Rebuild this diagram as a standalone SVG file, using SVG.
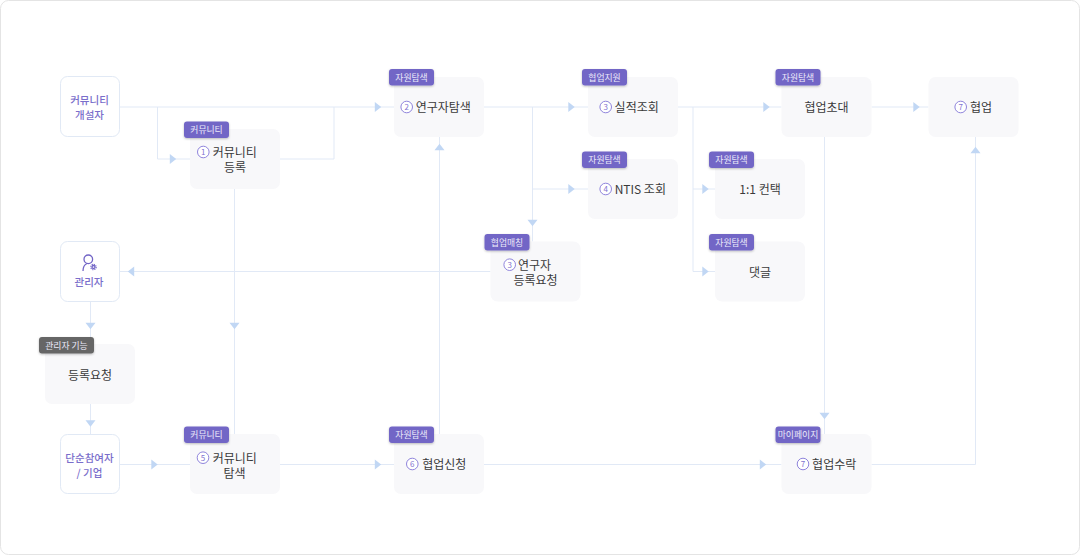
<svg xmlns="http://www.w3.org/2000/svg" width="1080" height="555" viewBox="0 0 1080 555">
<style>
text{font-family:"Noto Sans CJK KR","Noto Sans",sans-serif;text-anchor:middle}
.n{fill:#f8f8fa}
.u{fill:#fff;stroke:#e1e9f5;stroke-width:1}
.t{font-size:12px;fill:#3a3a3a}
.p{font-size:10.500px;fill:#7a6ecb;font-weight:500}
.b{fill:#7266c6;filter:url(#s)}
.g{fill:#666;filter:url(#s)}
.bt{font-size:8.800px;fill:#eceafa}
.c{fill:#fff;stroke:#8f84dc;stroke-width:1}
.d{font-size:8px;fill:#7f73cf}
.l{fill:none;stroke:#e1e9f6;stroke-width:1}
.a{fill:#c1d7f4}
</style>
<defs>
<filter id="s" x="-20%" y="-30%" width="140%" height="170%"><feDropShadow dx="0" dy="1" stdDeviation="1" flood-color="#000" flood-opacity=".25"/></filter>
<polygon id="ar" points="-3.200,-5 3.200,0 -3.200,5"/>
</defs>
<rect x="0.500" y="0.500" width="1079" height="554" rx="8" fill="#fff" stroke="#e4e4e4"/>
<g id="connectors">
<path class="l" d="M120 107H394M157.500 107V159H190M280 159H334V107M234.500 189V434M484 107H588M532.500 107V241.500M532.500 189H588M678 107H781.500M693 107V271.500H715M693 189H715M871.500 107H928.500M490.500 271.500H120M90.500 301.500V344M90.500 404V434M120 464.500H190M280 464.500H394M484 464.500H781.500M871.500 464.500H975.500V137M439.500 434V137M824.500 137V434"/>
<g class="a">
<use href="#ar" transform="translate(173,159)"/>
<use href="#ar" transform="translate(378,107)"/>
<use href="#ar" transform="translate(571.500,107)"/>
<use href="#ar" transform="translate(571.500,189)"/>
<use href="#ar" transform="translate(766.500,107)"/>
<use href="#ar" transform="translate(916.500,107)"/>
<use href="#ar" transform="translate(705.500,189)"/>
<use href="#ar" transform="translate(705.500,271.500)"/>
<use href="#ar" transform="translate(154.500,464.500)"/>
<use href="#ar" transform="translate(378,464.500)"/>
<use href="#ar" transform="translate(763,464.500)"/>
<use href="#ar" transform="translate(131,271.500) rotate(180)"/>
<use href="#ar" transform="translate(532.500,223) rotate(90)"/>
<use href="#ar" transform="translate(90.500,326) rotate(90)"/>
<use href="#ar" transform="translate(234.500,326) rotate(90)"/>
<use href="#ar" transform="translate(90.500,423.500) rotate(90)"/>
<use href="#ar" transform="translate(824.500,416) rotate(90)"/>
<use href="#ar" transform="translate(439.500,147) rotate(-90)"/>
<use href="#ar" transform="translate(975.500,150) rotate(-90)"/>
</g>
</g>
<g id="node-creator"><rect class="u" x="60.500" y="76.500" width="59" height="60" rx="7"/><text class="p" x="89.500" y="103.500">커뮤니티</text><text class="p" x="89.500" y="118.500">개설자</text></g>
<g id="node-register"><rect class="n" x="190" y="129" width="90" height="60" rx="7"/><rect class="b" x="184" y="121.500" width="45" height="16.500" rx="3"/><text class="bt" x="206.500" y="133">커뮤니티</text><circle class="c" cx="203.300" cy="152" r="5.800"/><text class="d" x="203.300" y="155">1</text><text class="t" x="234.800" y="157">커뮤니티</text><text class="t" x="235" y="172">등록</text></g>
<g id="node-search"><rect class="n" x="394" y="77" width="90" height="60" rx="7"/><rect class="b" x="389" y="69" width="45" height="16.500" rx="3"/><text class="bt" x="411.500" y="80.500">자원탐색</text><circle class="c" cx="406.700" cy="107" r="5.800"/><text class="d" x="406.700" y="110">2</text><text class="t" x="443.300" y="112">연구자탐색</text></g>
<g id="node-perf"><rect class="n" x="588" y="77" width="90" height="60" rx="7"/><rect class="b" x="582" y="69" width="45" height="16.500" rx="3"/><text class="bt" x="604.500" y="80.500">협업지원</text><circle class="c" cx="605.700" cy="107" r="5.800"/><text class="d" x="605.700" y="110">3</text><text class="t" x="636.700" y="112">실적조회</text></g>
<g id="node-ntis"><rect class="n" x="588" y="159" width="90" height="60" rx="7"/><rect class="b" x="582" y="151.500" width="45" height="16.500" rx="3"/><text class="bt" x="604.500" y="163">자원탐색</text><circle class="c" cx="605.700" cy="189" r="5.800"/><text class="d" x="605.700" y="192">4</text><text class="t" x="640.300" y="194">NTIS 조회</text></g>
<g id="node-invite"><rect class="n" x="781.500" y="77" width="90" height="60" rx="7"/><rect class="b" x="775.500" y="69" width="45" height="16.500" rx="3"/><text class="bt" x="798" y="80.500">자원탐색</text><text class="t" x="826.500" y="112">협업초대</text></g>
<g id="node-collab"><rect class="n" x="928.500" y="77" width="90" height="60" rx="7"/><circle class="c" cx="960.700" cy="107" r="5.800"/><text class="d" x="960.700" y="110">7</text><text class="t" x="981" y="112">협업</text></g>
<g id="node-contact"><rect class="n" x="715" y="159" width="90" height="60" rx="7"/><rect class="b" x="709" y="151.500" width="45" height="16.500" rx="3"/><text class="bt" x="731.500" y="163">자원탐색</text><text class="t" x="760" y="194">1:1 컨택</text></g>
<g id="node-comment"><rect class="n" x="715" y="241.500" width="90" height="60" rx="7"/><rect class="b" x="709" y="234" width="45" height="16.500" rx="3"/><text class="bt" x="731.500" y="245.500">자원탐색</text><text class="t" x="760" y="276.500">댓글</text></g>
<g id="node-request"><rect class="n" x="490.500" y="241.500" width="90" height="60" rx="7"/><rect class="b" x="484.500" y="234" width="45" height="16.500" rx="3"/><text class="bt" x="507" y="245.500">협업매칭</text><circle class="c" cx="509.700" cy="264.700" r="5.800"/><text class="d" x="509.700" y="267.700">3</text><text class="t" x="534.500" y="269.500">연구자</text><text class="t" x="535.500" y="284.800">등록요청</text></g>
<g id="node-admin"><rect class="u" x="60.500" y="241.500" width="59" height="60" rx="7"/><g fill="none" stroke="#7164c6" stroke-width="1.300"><circle cx="88.300" cy="259.300" r="4.300"/><path d="M83 271c0-4 1.500-6.500 4-7.500"/><circle cx="93.500" cy="267" r="1.500"/><circle cx="93.500" cy="267" r="2.700" stroke-width="1.100" stroke-dasharray="1.200 .9"/></g><text class="p" x="89" y="286">관리자</text></g>
<g id="node-approve"><rect class="n" x="45" y="344" width="90" height="60" rx="7"/><rect class="g" x="39" y="337" width="55" height="16.500" rx="3"/><text class="bt" x="66.500" y="348.500">관리자 기능</text><text class="t" x="90" y="379.800">등록요청</text></g>
<g id="node-user"><rect class="u" x="60.500" y="434.500" width="59" height="59" rx="7"/><text class="p" x="89.500" y="461.500">단순참여자</text><text class="p" x="89.500" y="476.500">/ 기업</text></g>
<g id="node-find"><rect class="n" x="190" y="434" width="90" height="60" rx="7"/><rect class="b" x="184" y="426.500" width="45" height="16.500" rx="3"/><text class="bt" x="206.500" y="438">커뮤니티</text><circle class="c" cx="203" cy="457.700" r="5.800"/><text class="d" x="203" y="460.700">5</text><text class="t" x="234.800" y="462.500">커뮤니티</text><text class="t" x="234.500" y="477.500">탐색</text></g>
<g id="node-apply"><rect class="n" x="394" y="434" width="90" height="60" rx="7"/><rect class="b" x="389" y="426.500" width="45" height="16.500" rx="3"/><text class="bt" x="411.500" y="438">자원탐색</text><circle class="c" cx="412.300" cy="464" r="5.800"/><text class="d" x="412.300" y="467">6</text><text class="t" x="444.300" y="469">협업신청</text></g>
<g id="node-accept"><rect class="n" x="781.500" y="434" width="90" height="60" rx="7"/><rect class="b" x="775.500" y="426.500" width="45" height="16.500" rx="3"/><text class="bt" x="798" y="438">마이페이지</text><circle class="c" cx="803" cy="464" r="5.800"/><text class="d" x="803" y="467">7</text><text class="t" x="834.200" y="469">협업수락</text></g>
</svg>
